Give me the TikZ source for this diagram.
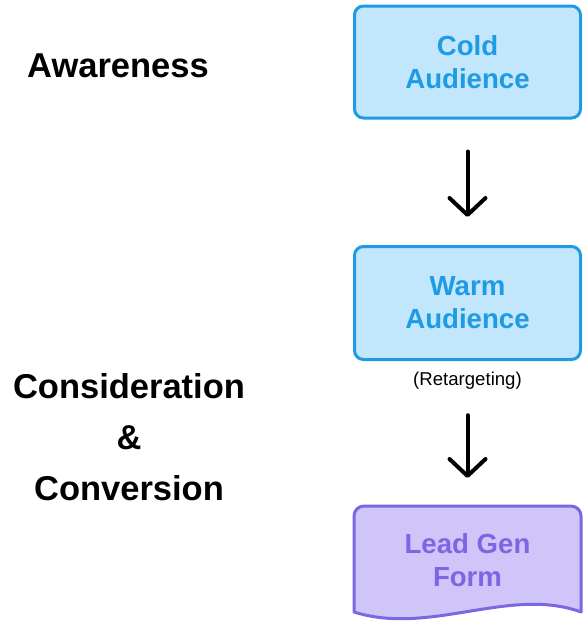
\documentclass[tikz,border=0pt]{standalone}
\usepackage{fontspec}
\setmainfont{Liberation Sans}
\usetikzlibrary{arrows.meta}
\definecolor{bluestroke}{HTML}{1E9BE4}
\definecolor{bluefill}{HTML}{C2E6FC}
\definecolor{purplestroke}{HTML}{7D66E4}
\definecolor{purplefill}{HTML}{CFC5F8}
\tikzset{
  audbox/.style={draw=bluestroke, fill=bluefill, line width=3pt, rounded corners=9pt,
    minimum width=226pt, minimum height=112pt, text=bluestroke, align=center,
    font=\bfseries\fontsize{27.6}{33}\selectfont},
  stagelabel/.style={anchor=base, font=\bfseries\fontsize{34.5}{40}\selectfont},
  flowarrow/.style={line width=4pt, line cap=round,
    -{Straight Barb[length=17pt, width=36pt, line width=4pt, line cap=round, line join=round]}},
}
\begin{document}
\begin{tikzpicture}[x=1pt, y=-1pt]
\useasboundingbox (0,0) rectangle (586,624);
% left labels
\node[stagelabel] (aw) at (118,77) {Awareness};
\node[stagelabel] (cons) at (129,398) {Consideration};
\node[stagelabel] (amp) at (129,449) {\&};
\node[stagelabel] (conv) at (129,500) {Conversion};
% boxes
\node[audbox] (cold) at (467.5,62) {Cold\\Audience};
\node[audbox, minimum height=113pt] (warm) at (467.5,303) {Warm\\Audience};
\node[font=\fontsize{18.6}{22}\selectfont] (ret) at (467.5,381) {(Retargeting)};
% lead gen document shape
\draw[draw=purplestroke, fill=purplefill, line width=3pt, line join=round]
  (354,612) -- (354,516) arc[start angle=180, end angle=90, radius=10pt]
  -- (571,506) arc[start angle=90, end angle=0, radius=10pt]
  -- (581,612) .. controls (510,586) and (430,636) .. cycle;
\node[text=purplestroke, align=center, font=\bfseries\fontsize{27.6}{33}\selectfont] (lead) at (467.5,560) {Lead Gen\\Form};
\coordinate (leadtop) at (467.5,506);
% arrows
\draw[flowarrow, shorten <=32pt, shorten >=28pt] (cold.south) -- (warm.north);
\draw[flowarrow, shorten <=22pt, shorten >=28pt] (ret.south) -- (leadtop);
\end{tikzpicture}
\end{document}
